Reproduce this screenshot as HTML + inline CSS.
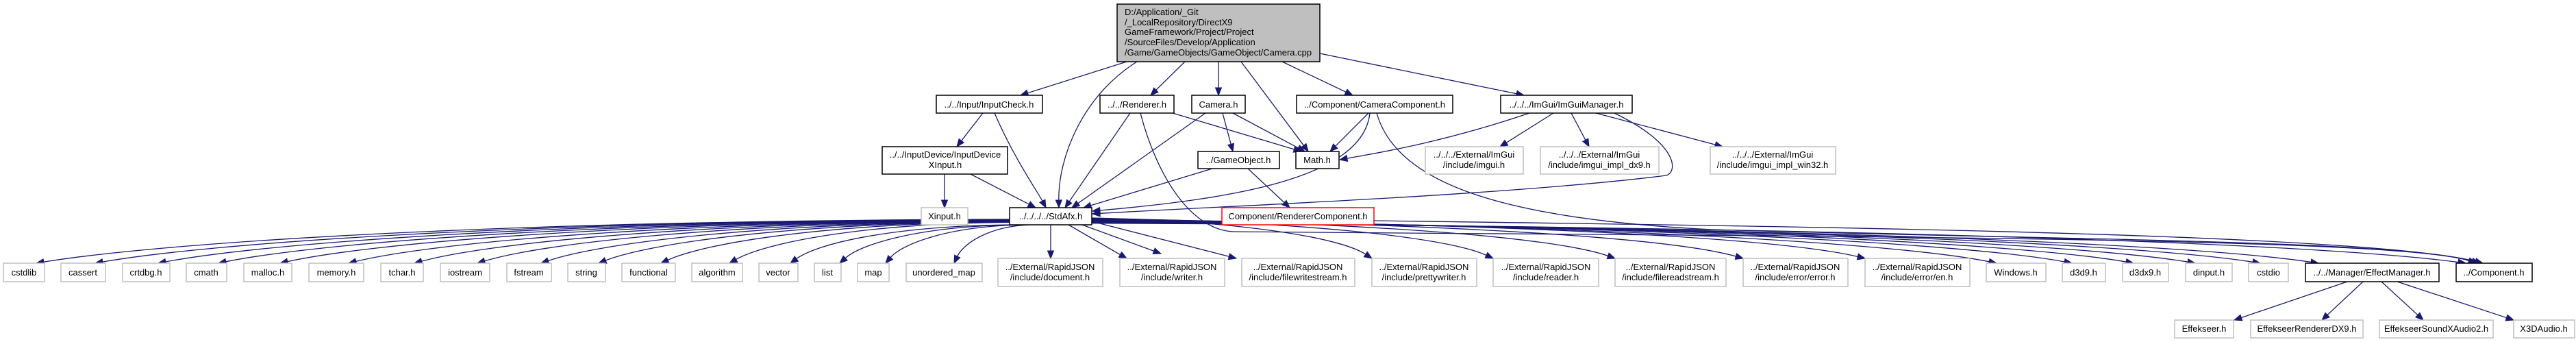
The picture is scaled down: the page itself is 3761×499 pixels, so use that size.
<!DOCTYPE html>
<html><head><meta charset="utf-8"><style>
html,body{margin:0;padding:0;background:#fff;width:3761px;height:499px;overflow:hidden}
svg{display:block}
text{font-family:"Liberation Sans",Arial,sans-serif;font-size:13px;fill:#000}
.g{fill:#fff;stroke:#bfbfbf;stroke-width:1.5}
.b{fill:#fff;stroke:#000;stroke-width:1.5}
.r{fill:#fff;stroke:#ff0000;stroke-width:1.5}
</style></head><body>
<svg id="s" width="3761" height="499" viewBox="0 0 3761 499" xmlns="http://www.w3.org/2000/svg">
<g id="edges" fill="none" stroke="#191970" stroke-width="1.3"></g>
<g id="heads" fill="#191970" stroke="#191970"></g>
<g text-anchor="middle">
<rect x="1631" y="6" width="296" height="84" fill="#bfbfbf" stroke="#000" stroke-width="1.5"/>
<g text-anchor="start">
<text x="1642" y="22">D:/Application/_Git</text>
<text x="1642" y="37">/_LocalRepository/DirectX9</text>
<text x="1642" y="51">GameFramework/Project/Project</text>
<text x="1642" y="66">/SourceFiles/Develop/Application</text>
<text x="1642" y="81">/Game/GameObjects/GameObject/Camera.cpp</text>
</g>
<rect class="b" x="1367" y="139" width="155" height="26"/><text x="1444" y="157">../../Input/InputCheck.h</text>
<rect class="b" x="1606" y="139" width="108" height="26"/><text x="1660" y="157">../../Renderer.h</text>
<rect class="b" x="1740" y="139" width="78" height="26"/><text x="1779" y="157">Camera.h</text>
<rect class="b" x="1893" y="139" width="228" height="26"/><text x="2007" y="157">../Component/CameraComponent.h</text>
<rect class="b" x="2191" y="139" width="192" height="26"/><text x="2287" y="157">../../../ImGui/ImGuiManager.h</text>
<rect class="b" x="1288" y="214" width="183" height="40"/><text x="1380" y="230">../../InputDevice/InputDevice</text><text x="1380" y="245">XInput.h</text>
<rect class="b" x="1749" y="221" width="119" height="25"/><text x="1808" y="238">../GameObject.h</text>
<rect class="b" x="1892" y="221" width="63" height="25"/><text x="1923" y="238">Math.h</text>
<rect class="g" x="2081" y="214" width="143" height="40"/><text x="2152" y="230">../../../External/ImGui</text><text x="2152" y="245">/include/imgui.h</text>
<rect class="g" x="2249" y="214" width="173" height="40"/><text x="2335" y="230">../../../External/ImGui</text><text x="2335" y="245">/include/imgui_impl_dx9.h</text>
<rect class="g" x="2497" y="214" width="183" height="40"/><text x="2588" y="230">../../../External/ImGui</text><text x="2588" y="245">/include/imgui_impl_win32.h</text>
<rect class="g" x="1345" y="303" width="68" height="25"/><text x="1379" y="320">Xinput.h</text>
<rect class="b" x="1474" y="303" width="120" height="25"/><text x="1534" y="320">../../../../StdAfx.h</text>
<rect class="r" x="1784" y="303" width="222" height="25"/><text x="1895" y="320">Component/RendererComponent.h</text>

<rect class="g" x="5" y="384" width="60" height="27"/><text x="35" y="402">cstdlib</text>
<rect class="g" x="89" y="384" width="65" height="27"/><text x="121" y="402">cassert</text>
<rect class="g" x="179" y="384" width="69" height="27"/><text x="213" y="402">crtdbg.h</text>
<rect class="g" x="272" y="384" width="59" height="27"/><text x="301" y="402">cmath</text>
<rect class="g" x="356" y="384" width="70" height="27"/><text x="391" y="402">malloc.h</text>
<rect class="g" x="451" y="384" width="80" height="27"/><text x="491" y="402">memory.h</text>
<rect class="g" x="556" y="384" width="62" height="27"/><text x="587" y="402">tchar.h</text>
<rect class="g" x="643" y="384" width="72" height="27"/><text x="679" y="402">iostream</text>
<rect class="g" x="740" y="384" width="65" height="27"/><text x="772" y="402">fstream</text>
<rect class="g" x="829" y="384" width="55" height="27"/><text x="856" y="402">string</text>
<rect class="g" x="908" y="384" width="78" height="27"/><text x="947" y="402">functional</text>
<rect class="g" x="1010" y="384" width="74" height="27"/><text x="1047" y="402">algorithm</text>
<rect class="g" x="1108" y="384" width="57" height="27"/><text x="1136" y="402">vector</text>
<rect class="g" x="1189" y="384" width="39" height="27"/><text x="1208" y="402">list</text>
<rect class="g" x="1252" y="384" width="46" height="27"/><text x="1275" y="402">map</text>
<rect class="g" x="1323" y="384" width="111" height="27"/><text x="1378" y="402">unordered_map</text>
<rect class="g" x="1457" y="377" width="153" height="41"/><text x="1533" y="394">../External/RapidJSON</text><text x="1533" y="409">/include/document.h</text>
<rect class="g" x="1635" y="377" width="153" height="41"/><text x="1711" y="394">../External/RapidJSON</text><text x="1711" y="409">/include/writer.h</text>
<rect class="g" x="1813" y="377" width="165" height="41"/><text x="1895" y="394">../External/RapidJSON</text><text x="1895" y="409">/include/filewritestream.h</text>
<rect class="g" x="2003" y="377" width="153" height="41"/><text x="2079" y="394">../External/RapidJSON</text><text x="2079" y="409">/include/prettywriter.h</text>
<rect class="g" x="2180" y="377" width="154" height="41"/><text x="2257" y="394">../External/RapidJSON</text><text x="2257" y="409">/include/reader.h</text>
<rect class="g" x="2358" y="377" width="162" height="41"/><text x="2439" y="394">../External/RapidJSON</text><text x="2439" y="409">/include/filereadstream.h</text>
<rect class="g" x="2545" y="377" width="153" height="41"/><text x="2621" y="394">../External/RapidJSON</text><text x="2621" y="409">/include/error/error.h</text>
<rect class="g" x="2723" y="377" width="153" height="41"/><text x="2799" y="394">../External/RapidJSON</text><text x="2799" y="409">/include/error/en.h</text>
<rect class="g" x="2900" y="384" width="87" height="27"/><text x="2943" y="402">Windows.h</text>
<rect class="g" x="3011" y="384" width="63" height="27"/><text x="3042" y="402">d3d9.h</text>
<rect class="g" x="3099" y="384" width="67" height="27"/><text x="3132" y="402">d3dx9.h</text>
<rect class="g" x="3191" y="384" width="68" height="27"/><text x="3225" y="402">dinput.h</text>
<rect class="g" x="3283" y="384" width="58" height="27"/><text x="3312" y="402">cstdio</text>
<rect class="b" x="3366" y="384" width="195" height="27"/><text x="3463" y="402">../../Manager/EffectManager.h</text>
<rect class="b" x="3586" y="384" width="111" height="27"/><text x="3641" y="402">../Component.h</text>
<rect class="g" x="3175" y="467" width="86" height="26"/><text x="3218" y="484">Effekseer.h</text>
<rect class="g" x="3286" y="467" width="164" height="26"/><text x="3368" y="484">EffekseerRendererDX9.h</text>
<rect class="g" x="3474" y="467" width="166" height="26"/><text x="3557" y="484">EffekseerSoundXAudio2.h</text>
<rect class="g" x="3670" y="467" width="89" height="26"/><text x="3714" y="484">X3DAudio.h</text>
</g>
</svg>
<script>
var E=document.getElementById('edges'),H=document.getElementById('heads'),NS='http://www.w3.org/2000/svg';
function seg(x1,y1,a,b,c,d,x2,y2){
 var p=document.createElementNS(NS,'path');
 p.setAttribute('d','M'+x1+','+y1+' C'+a+','+b+' '+c+','+d+' '+x2+','+y2);E.appendChild(p);
}
function e(x1,y1,a,b,c,d,x2,y2){
 if(a===undefined){a=x1+(x2-x1)/3;b=y1+(y2-y1)/3;c=x1+2*(x2-x1)/3;d=y1+2*(y2-y1)/3;}
 var dx=x2-c,dy=y2-d,L=Math.hypot(dx,dy)||1;dx/=L;dy/=L;
 var bx=x2-dx*11,by=y2-dy*11;
 seg(x1,y1,a,b,c,d,bx,by);
 var t=document.createElementNS(NS,'polygon'),px=-dy*4.5,py=dx*4.5;
 t.setAttribute('points',x2+','+y2+' '+(bx+px)+','+(by+py)+' '+(bx-px)+','+(by-py));H.appendChild(t);
}
function L(x1,y1,x2,y2){e(x1,y1,undefined,undefined,undefined,undefined,x2,y2);}
L(1645,90,1490,139);
e(1660,90,1580,140,1545,230,1546,303);
L(1730,90,1680,139);
L(1779,90,1779,139);
L(1812,90,1910,221);
L(1872,90,1975,139);
L(1927,78,2225,139);
L(1435,165,1397,214);
e(1452,165,1480,230,1515,280,1527,303);
L(1379,254,1379,303);
L(1417,254,1512,303);
L(1650,165,1555,303);
L(1712,165,1900,221);
seg(1665,165,1690,260,1740,335,1800,338);
e(1800,338,2600,345,3500,345,3615,384);
L(1760,165,1565,303);
L(1785,165,1800,221);
L(1800,165,1905,221);
L(1770,246,1582,303);
L(1822,246,1883,303);
L(1998,165,1942,221);
e(2000,165,1990,260,1800,290,1595,308);
seg(2010,165,2040,270,2200,320,2500,335);
e(2500,335,3000,350,3500,350,3620,384);
L(2268,165,2190,214);
L(2294,165,2320,214);
L(2330,165,2515,214);
e(2233,165,2100,210,2000,225,1956,233);
seg(2357,165,2450,210,2450,250,2433,256);
e(2433,256,2200,285,1800,300,1595,312);
e(2006,322,2600,330,3450,340,3625,384);
var lt=[[35,384],[121,384],[213,384],[301,384],[391,384],[491,384],[587,384],[679,384],[772,384],[856,384],[947,384],[1047,384],[1136,384],[1208,384],[1275,384],[1378,384]];
lt.forEach(function(t,i){
 var tx=t[0]+(i<15?18:15),ty=t[1];
 var sy=320+i*0.4,sx=1474;
 if(i>=12){sx=1474+(i-12)*10;sy=328;}
 e(sx,sy,sx-(sx-tx)*0.55,sy+2,tx+(sx-tx)*0.12,ty-28,tx,ty);
});
L(1534,328,1534,377);
L(1560,328,1645,377);
L(1580,328,1695,370);
L(1594,323,1805,377);
var rt=[[2003,377],[2180,377],[2358,377],[2545,377],[2723,377],[2915,384],[3025,384],[3115,384],[3205,384],[3300,384],[3385,384],[3600,384]];
rt.forEach(function(t,i){
 var tx=t[0],ty=t[1],sy=318+i*0.7;
 e(1594,sy,1594+(tx-1594)*0.5,sy+4,tx-(tx-1594)*0.12,ty-32,tx,ty);
});
L(3427,411,3262,467);
L(3450,411,3390,467);
L(3477,411,3538,467);
L(3500,411,3670,467);
</script>
</body></html>
